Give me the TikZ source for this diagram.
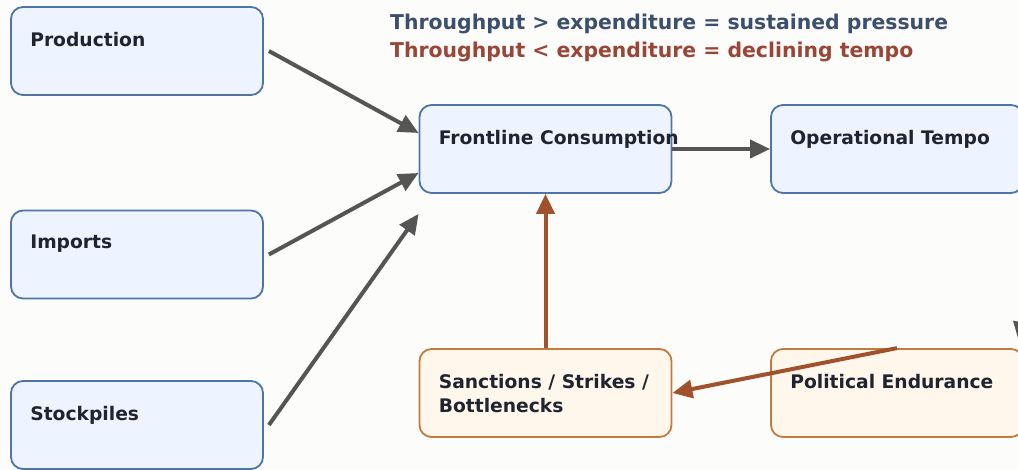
\documentclass[tikz,border=0pt]{standalone}
\usepackage{fontspec}
\setmainfont{DejaVu Sans}
\usetikzlibrary{arrows.meta}

\definecolor{bgcol}{HTML}{FCFCFA}
\definecolor{boxblue}{HTML}{4F74A8}
\definecolor{boxfill}{HTML}{EEF4FF}
\definecolor{warnline}{HTML}{C27A3E}
\definecolor{warnfill}{HTML}{FFF6EC}
\definecolor{ink}{HTML}{1F2430}
\definecolor{flowgrey}{HTML}{555555}
\definecolor{dragred}{HTML}{A0522D}
\definecolor{noteblue}{HTML}{3C4F6E}
\definecolor{notered}{HTML}{9A4536}

\tikzset{
  box/.style={draw=boxblue, fill=boxfill, line width=1.8pt, rounded corners=12pt,
    minimum width=252pt, minimum height=88pt, inner sep=0pt},
  warnbox/.style={box, draw=warnline, fill=warnfill},
  boxtext/.style={anchor=north west, inner sep=0pt, align=left, text=ink,
    font=\fontsize{18.7}{24}\selectfont\bfseries},
  note/.style={anchor=base west, inner sep=0pt, font=\fontsize{20.4}{24}\selectfont\bfseries},
  flow/.style={draw=flowgrey, line width=4pt, -{Triangle[length=20pt,width=18pt]}},
  drag/.style={flow, draw=dragred}
}

\begin{document}
\begin{tikzpicture}[x=1pt,y=-1pt]
  \useasboundingbox (0,0) rectangle (1018,470);
  \fill[bgcol] (0,0) rectangle (1018,470);
  \clip (0,0) rectangle (1018,470);

  %%% note lines
  \node[note, text=noteblue] (up) at (390,30) {Throughput > expenditure = sustained pressure};
  \node[note, text=notered] (down) at (390,58) {Throughput < expenditure = declining tempo};

  %%% boxes
  \node[box] (prod) at (137,51) {};
  \node[box] (imp) at (137,254.5) {};
  \node[box] (stock) at (137,425) {};
  \node[box] (front) at (545.5,149) {};
  \node[box] (tempo) at (897,149) {};
  \node[warnbox] (sanc) at (545.5,393) {};
  \node[warnbox] (pol) at (897,393) {};

  \node[boxtext] (prod-t) at ([xshift=20pt,yshift=-25.5pt]prod.north west) {Production};
  \node[boxtext] (imp-t) at ([xshift=20pt,yshift=-25.5pt]imp.north west) {Imports};
  \node[boxtext] (stock-t) at ([xshift=20pt,yshift=-25.5pt]stock.north west) {Stockpiles};
  \node[boxtext] (front-t) at ([xshift=20pt,yshift=-25.5pt]front.north west) {Frontline Consumption};
  \node[boxtext] (tempo-t) at ([xshift=20pt,yshift=-25.5pt]tempo.north west) {Operational Tempo};
  \node[boxtext] (sanc-t) at ([xshift=20pt,yshift=-25.5pt]sanc.north west) {Sanctions / Strikes /\\Bottlenecks};
  \node[boxtext] (pol-t) at ([xshift=20pt,yshift=-25.5pt]pol.north west) {Political Endurance};

  %%% flows
  \draw[flow] ([xshift=5pt]prod.east) -- ([yshift=16pt]front.west);
  \draw[flow] ([xshift=5pt]imp.east) -- ([yshift=-24pt]front.west);
  \draw[flow] ([xshift=5pt]stock.east) -- ([yshift=-20pt]front.south west);
  \draw[flow] (front.east) -- (tempo.west);
  \coordinate (loop-a) at (1045,193);
  \coordinate (loop-b) at (1019,342);
  \draw[flow] (loop-a) -- (loop-b);

  %%% drag
  \draw[drag] (sanc.north) -- (front.south);
  \draw[drag] (pol.north) -- (sanc.east);
\end{tikzpicture}
\end{document}
